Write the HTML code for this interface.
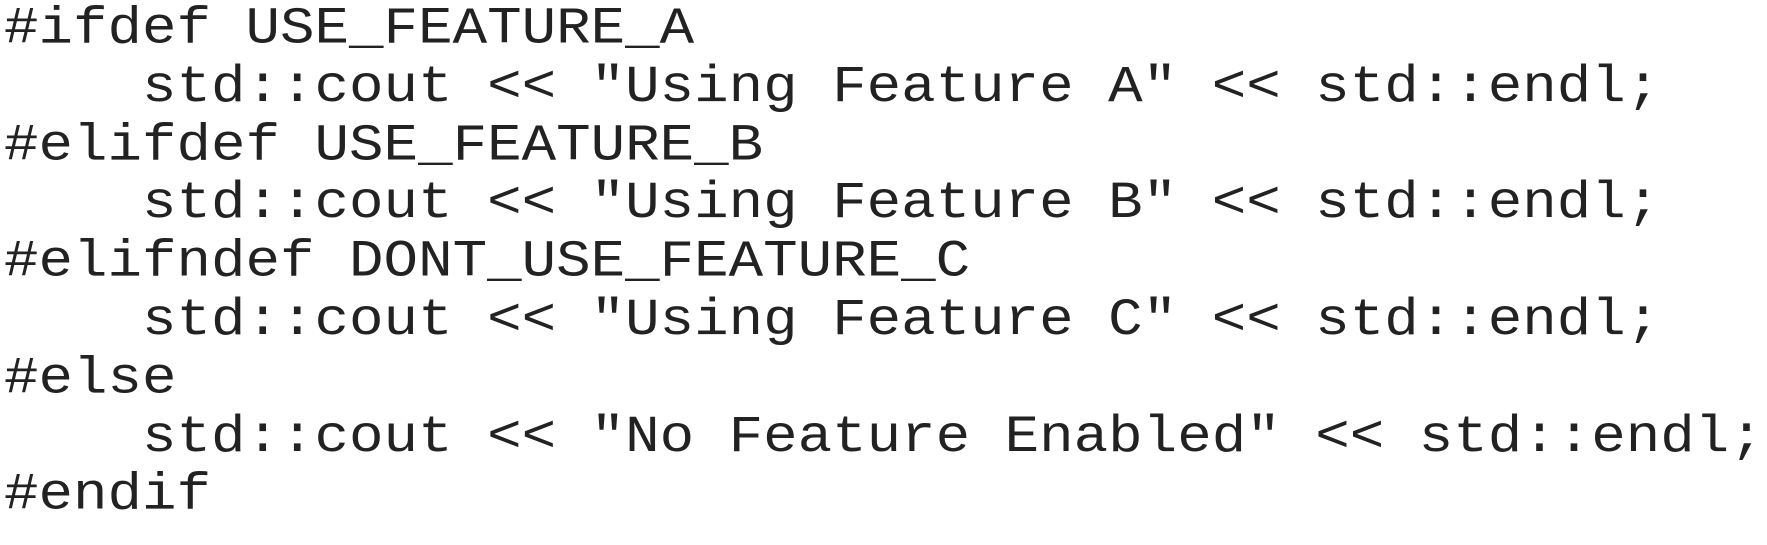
<!DOCTYPE html>
<html>
<head>
<meta charset="utf-8">
<style>
  html, body { margin: 0; padding: 0; background: #ffffff; }
  body { width: 1767px; height: 545px; overflow: hidden; position: relative; }
  pre {
    position: absolute;
    left: 4px;
    top: 1px;
    margin: 0;
    font-family: "Liberation Mono", monospace;
    font-size: 57.5px;
    line-height: 64.8px;
    color: #222222;
    white-space: pre;
    transform: scale(1, 0.9);
    transform-origin: 0 0;
  }
</style>
</head>
<body>
<pre>#ifdef USE_FEATURE_A
    std::cout &lt;&lt; "Using Feature A" &lt;&lt; std::endl;
#elifdef USE_FEATURE_B
    std::cout &lt;&lt; "Using Feature B" &lt;&lt; std::endl;
#elifndef DONT_USE_FEATURE_C
    std::cout &lt;&lt; "Using Feature C" &lt;&lt; std::endl;
#else
    std::cout &lt;&lt; "No Feature Enabled" &lt;&lt; std::endl;
#endif</pre>
</body>
</html>
